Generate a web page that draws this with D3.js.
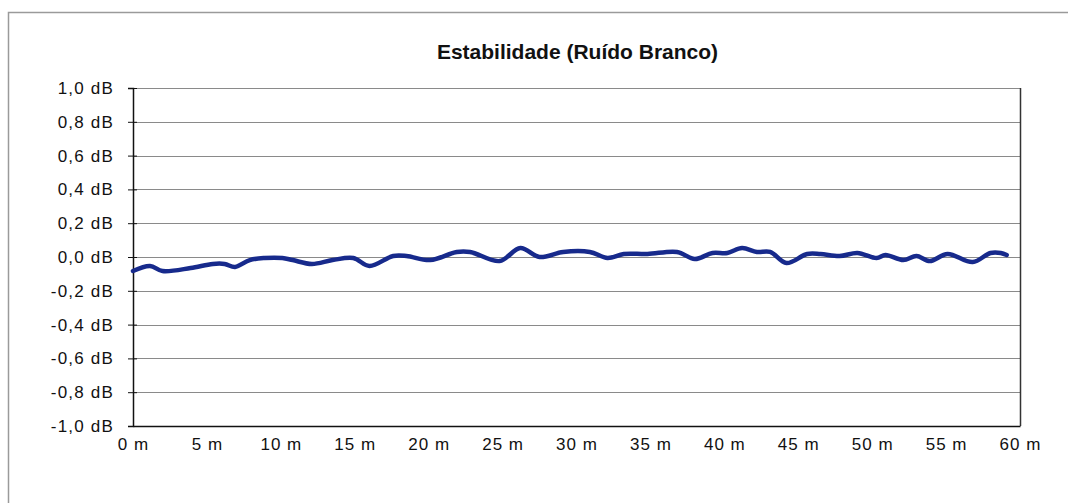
<!DOCTYPE html>
<html>
<head>
<meta charset="utf-8">
<script src="https://cdn.jsdelivr.net/npm/d3@7"></script>
<style>
  body { margin: 0; background: #fff; }
  svg { display: block; font-family: "Liberation Sans", Arial, sans-serif; }
</style>
</head>
<body>
<script>
/* DATA */
var title = 'Estabilidade (Ruído Branco)';
var meters = [0, 1.15, 2.0, 3.9, 5.4, 6.2, 6.9, 7.9, 8.9, 10.1, 10.8, 12.1, 13.5, 14.9, 16.0,
              17.6, 18.5, 20.1, 21.9, 22.8, 24.8, 26.2, 27.5, 29.1, 30.9, 32.1, 33.2, 34.8,
              36.8, 38.0, 39.2, 40.2, 41.2, 42.2, 43.1, 44.2, 45.6, 46.5, 47.8, 49.0, 50.3,
              50.9, 52.1, 53.0, 53.9, 55.1, 56.8, 58.0, 58.7, 59.1];
var levels = [-0.083, -0.053, -0.083, -0.065, -0.041, -0.041, -0.059, -0.018, -0.006, -0.006,
              -0.018, -0.041, -0.018, -0.006, -0.053, 0.006, 0.006, -0.018, 0.030, 0.030,
              -0.024, 0.053, 0.000, 0.030, 0.030, -0.006, 0.018, 0.018, 0.030, -0.012,
              0.024, 0.024, 0.053, 0.030, 0.030, -0.036, 0.018, 0.018, 0.006, 0.024,
              -0.006, 0.012, -0.018, 0.006, -0.024, 0.018, -0.030, 0.024, 0.024, 0.012];
var xTicks = [0, 5, 10, 15, 20, 25, 30, 35, 40, 45, 50, 55, 60];
var yTicks = [1.0, 0.8, 0.6, 0.4, 0.2, 0.0, -0.2, -0.4, -0.6, -0.8, -1.0];

/* LAYOUT */
var w = 1068, h = 503,
    plotL = 133, plotR = 1020, plotT = 88, plotB = 426;

var c = {
  line:  '#172a8c',
  grid:  '#8a8a8a',
  axis:  '#111',
  frame: '#9a9a9a',
  text:  '#111'
};

var svg = d3.select('body').append('svg')
  .attr('width', w)
  .attr('height', h);

/* OUTER FRAME */
svg.append('path')
  .attr('d', 'M8.5,' + (h + 5) + 'V12.5H' + (w + 5))
  .attr('fill', 'none')
  .attr('stroke', c.frame)
  .attr('stroke-width', 1.5);

/* SCALES */
var x = d3.scaleLinear().domain([0, 60]).range([plotL, plotR]);
var y = d3.scaleLinear().domain([-1, 1]).range([plotB, plotT]);

/* TITLE */
svg.append('text')
  .attr('x', (plotL + plotR) / 2 + 1)
  .attr('y', 59)
  .attr('text-anchor', 'middle')
  .attr('font-size', 21)
  .attr('font-weight', 'bold')
  .attr('fill', c.text)
  .text(title);

/* GRIDLINES */
svg.append('g')
  .selectAll('line')
  .data(yTicks.filter(function(d){ return d > -1; }))
  .enter()
    .append('line')
    .attr('x1', plotL)
    .attr('x2', plotR)
    .attr('y1', function(d){ return Math.round(y(d)) + 0.5; })
    .attr('y2', function(d){ return Math.round(y(d)) + 0.5; })
    .attr('stroke', c.grid)
    .attr('stroke-width', 1);

/* PLOT BORDER (right side) */
svg.append('line')
  .attr('x1', plotR + 0.5).attr('x2', plotR + 0.5)
  .attr('y1', plotT).attr('y2', plotB)
  .attr('stroke', '#333')
  .attr('stroke-width', 1.5);

/* Y AXIS */
var yAxis = d3.axisLeft(y)
  .tickValues(yTicks)
  .tickSize(5)
  .tickPadding(14)
  .tickFormat(function(d){ return d3.format('.1f')(d).replace('.', ',').replace('−', '-') + ' dB'; });

var gy = svg.append('g')
  .attr('transform', 'translate(' + plotL + ',0)')
  .call(yAxis);
gy.select('.domain').attr('stroke', c.axis).attr('stroke-width', 1.5);
gy.selectAll('.tick line').attr('stroke', c.axis).attr('x2', 4).attr('x1', -5);
gy.selectAll('.tick text').attr('font-size', 17).attr('fill', c.text)
  .attr('letter-spacing', 1.2)
  .attr('font-family', '"Liberation Sans", Arial, sans-serif');

/* X AXIS */
var xAxis = d3.axisBottom(x)
  .tickValues(xTicks)
  .tickSize(0)
  .tickPadding(12)
  .tickFormat(function(d){ return d + ' m'; });

var gx = svg.append('g')
  .attr('transform', 'translate(0,' + plotB + ')')
  .call(xAxis);
gx.select('.domain').attr('stroke', c.axis).attr('stroke-width', 1.5);
gx.selectAll('.tick text').attr('font-size', 17).attr('fill', c.text)
  .attr('letter-spacing', 1)
  .attr('font-family', '"Liberation Sans", Arial, sans-serif');

/* SERIES */
var pts = meters.map(function(m, i){ return [m, levels[i]]; });
var line = d3.line()
  .x(function(d){ return x(d[0]); })
  .y(function(d){ return y(d[1]); })
  .curve(d3.curveCatmullRom.alpha(0.5));

svg.append('path')
  .datum(pts)
  .attr('d', line)
  .attr('fill', 'none')
  .attr('stroke', c.line)
  .attr('stroke-width', 4.5)
  .attr('stroke-linejoin', 'round')
  .attr('stroke-linecap', 'round');
</script>
</body>
</html>
